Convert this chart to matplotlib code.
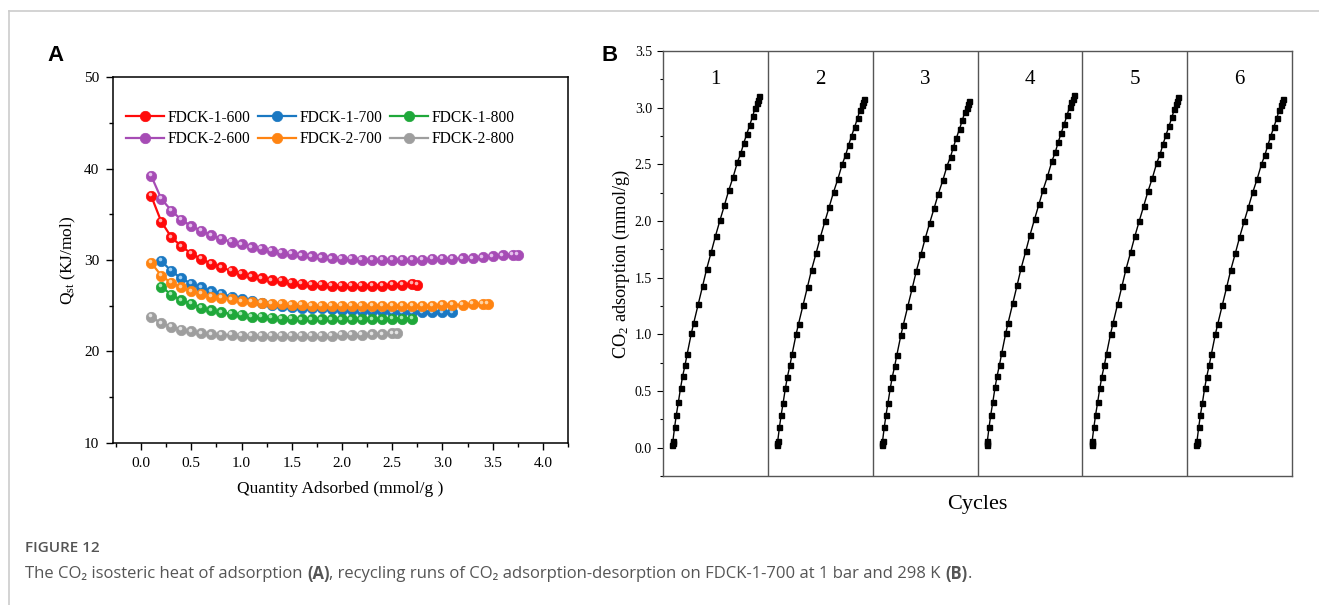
import numpy as np
import matplotlib
matplotlib.use("Agg")
import matplotlib.pyplot as plt
from matplotlib.ticker import MultipleLocator
from matplotlib import transforms

# ---- panel A: isosteric heat of adsorption ----
x_1_600 = [0.1, 0.2, 0.3, 0.4, 0.5, 0.6, 0.7, 0.8, 0.9, 1.0, 1.1, 1.2, 1.3, 1.4,
           1.5, 1.6, 1.7, 1.8, 1.9, 2.0, 2.1, 2.2, 2.3, 2.4, 2.5, 2.6, 2.7, 2.75]
q_1_600 = [37.0, 34.2, 32.5, 31.5, 30.7, 30.1, 29.6, 29.2, 28.8, 28.5, 28.2, 28.0, 27.8, 27.7,
           27.5, 27.4, 27.3, 27.3, 27.2, 27.2, 27.2, 27.2, 27.2, 27.2, 27.3, 27.3, 27.4, 27.3]

x_1_700 = [0.2, 0.3, 0.4, 0.5, 0.6, 0.7, 0.8, 0.9, 1.0, 1.1, 1.2, 1.3, 1.4, 1.5, 1.6,
           1.7, 1.8, 1.9, 2.0, 2.1, 2.2, 2.3, 2.4, 2.5, 2.6, 2.7, 2.8, 2.9, 3.0, 3.1]
q_1_700 = [29.9, 28.8, 28.0, 27.4, 27.0, 26.6, 26.3, 26.0, 25.7, 25.5, 25.3, 25.1, 25.0, 24.9, 24.8,
           24.7, 24.7, 24.6, 24.5, 24.5, 24.4, 24.4, 24.4, 24.3, 24.3, 24.3, 24.3, 24.3, 24.3, 24.3]

x_1_800 = [0.2, 0.3, 0.4, 0.5, 0.6, 0.7, 0.8, 0.9, 1.0, 1.1, 1.2, 1.3, 1.4,
           1.5, 1.6, 1.7, 1.8, 1.9, 2.0, 2.1, 2.2, 2.3, 2.4, 2.5, 2.6, 2.7]
q_1_800 = [27.1, 26.2, 25.6, 25.2, 24.8, 24.5, 24.3, 24.1, 24.0, 23.8, 23.8, 23.7, 23.6,
           23.6, 23.5, 23.5, 23.5, 23.5, 23.5, 23.5, 23.5, 23.5, 23.5, 23.6, 23.6, 23.6]

x_2_600 = [0.1, 0.2, 0.3, 0.4, 0.5, 0.6, 0.7, 0.8, 0.9, 1.0, 1.1, 1.2, 1.3, 1.4, 1.5, 1.6, 1.7, 1.8, 1.9,
           2.0, 2.1, 2.2, 2.3, 2.4, 2.5, 2.6, 2.7, 2.8, 2.9, 3.0, 3.1, 3.2, 3.3, 3.4, 3.5, 3.6, 3.7, 3.75]
q_2_600 = [39.2, 36.7, 35.4, 34.4, 33.7, 33.2, 32.7, 32.3, 32.0, 31.7, 31.4, 31.2, 31.0, 30.8, 30.7, 30.5, 30.4, 30.3, 30.2,
           30.1, 30.1, 30.0, 30.0, 30.0, 30.0, 30.0, 30.0, 30.0, 30.1, 30.1, 30.1, 30.2, 30.2, 30.3, 30.4, 30.5, 30.6, 30.6]

x_2_700 = [0.1, 0.2, 0.3, 0.4, 0.5, 0.6, 0.7, 0.8, 0.9, 1.0, 1.1, 1.2, 1.3, 1.4, 1.5, 1.6, 1.7, 1.8,
           1.9, 2.0, 2.1, 2.2, 2.3, 2.4, 2.5, 2.6, 2.7, 2.8, 2.9, 3.0, 3.1, 3.2, 3.3, 3.4, 3.45]
q_2_700 = [29.7, 28.3, 27.5, 27.0, 26.6, 26.3, 26.0, 25.9, 25.7, 25.5, 25.4, 25.3, 25.2, 25.2, 25.1, 25.1, 25.0, 25.0,
           25.0, 25.0, 25.0, 25.0, 25.0, 25.0, 25.0, 25.0, 25.0, 25.0, 25.0, 25.1, 25.1, 25.1, 25.2, 25.2, 25.2]

x_2_800 = [0.1, 0.2, 0.3, 0.4, 0.5, 0.6, 0.7, 0.8, 0.9, 1.0, 1.1, 1.2, 1.3,
           1.4, 1.5, 1.6, 1.7, 1.8, 1.9, 2.0, 2.1, 2.2, 2.3, 2.4, 2.5, 2.55]
q_2_800 = [23.8, 23.1, 22.7, 22.4, 22.2, 22.0, 21.9, 21.8, 21.8, 21.7, 21.7, 21.7, 21.7,
           21.7, 21.7, 21.7, 21.7, 21.7, 21.7, 21.8, 21.8, 21.8, 21.9, 21.9, 22.0, 22.0]

# ---- panel B: recycling runs (FDCK-1-700, 298 K) ----
pressure = [0.002, 0.005, 0.008, 0.028, 0.047, 0.070, 0.096, 0.119, 0.147, 0.172, 0.219,
            0.246, 0.299, 0.349, 0.395, 0.448, 0.496, 0.548, 0.598, 0.647, 0.698, 0.747,
            0.786, 0.820, 0.854, 0.889, 0.923, 0.949, 0.969, 0.984, 0.995]
uptake = [0.02, 0.04, 0.06, 0.185, 0.29, 0.40, 0.53, 0.63, 0.73, 0.83, 1.01,
          1.10, 1.27, 1.43, 1.58, 1.73, 1.87, 2.01, 2.14, 2.27, 2.39, 2.52,
          2.60, 2.69, 2.77, 2.85, 2.93, 3.00, 3.04, 3.07, 3.10]
cycle_labels = ["1", "2", "3", "4", "5", "6"]
cycle_peak = [3.10, 3.08, 3.06, 3.11, 3.09, 3.08]

serif = "Liberation Serif"
plt.rcParams["font.family"] = serif
plt.rcParams["mathtext.fontset"] = "custom"
plt.rcParams["mathtext.rm"] = serif
plt.rcParams["mathtext.it"] = serif + ":italic"

fig = plt.figure(figsize=(13.19, 6.05), dpi=100)

# page frame (left + top grey rule)
fig.add_artist(plt.Line2D([0.0068, 1.0], [0.9818, 0.9818], color="#cccccc", lw=1.2))
fig.add_artist(plt.Line2D([0.0068, 0.0068], [0.0, 0.9818], color="#cccccc", lw=1.2))

axA = fig.add_axes([0.0857, 0.2678, 0.3449, 0.6049])
series = [
    ("FDCK-1-600", x_1_600, q_1_600, "#ff0a0a", "#ffb0b0"),
    ("FDCK-1-700", x_1_700, q_1_700, "#1a78c2", "#9fd0f5"),
    ("FDCK-1-800", x_1_800, q_1_800, "#1fa83a", "#a8eab5"),
    ("FDCK-2-600", x_2_600, q_2_600, "#a64cb5", "#e6c2ee"),
    ("FDCK-2-700", x_2_700, q_2_700, "#ff8412", "#ffd3a3"),
    ("FDCK-2-800", x_2_800, q_2_800, "#9e9e9e", "#e4e4e4"),
]
hl = transforms.offset_copy(axA.transData, fig=fig, x=-1.6, y=1.6, units="dots")
handles = {}
for lab, xs, ys, c, light in series:
    h, = axA.plot(xs, ys, "-o", color=c, lw=1.6, ms=7.5, mec=c, mew=0.5, label=lab)
    axA.plot(xs, ys, "o", color=light, ms=2.6, mew=0, transform=hl)
    handles[lab] = h

axA.set_xlim(-0.28, 4.25)
axA.set_ylim(10, 50)
axA.xaxis.set_minor_locator(MultipleLocator(0.25))
axA.yaxis.set_major_locator(MultipleLocator(10))
axA.yaxis.set_minor_locator(MultipleLocator(5))
axA.set_xticks(np.arange(0, 4.01, 0.5))
axA.set_xticklabels([f"{v:.1f}" for v in np.arange(0, 4.01, 0.5)])
axA.tick_params(which="major", direction="out", length=5, width=1, labelsize=11, pad=5)
axA.tick_params(which="minor", direction="out", length=3, width=1)
for s in axA.spines.values():
    s.set_linewidth(1.1)
axA.set_xlabel("Quantity Adsorbed (mmol/g )", fontsize=12.5, labelpad=8)
axA.set_ylabel("Q$_{\\mathrm{st}}$ (KJ/mol)", fontsize=12.5, labelpad=4)

# legend filled column-wise, so interleave to get rows 1-x / 2-x
order = ["FDCK-1-600", "FDCK-2-600", "FDCK-1-700", "FDCK-2-700", "FDCK-1-800", "FDCK-2-800"]
axA.legend([handles[k] for k in order], order, ncol=3, loc="center",
           bbox_to_anchor=(0.456, 0.86), frameon=False,
           fontsize=11.2, handlelength=2.4, handletextpad=0.25, columnspacing=0.5,
           labelspacing=0.35, borderaxespad=0)

axB = fig.add_axes([0.5027, 0.2132, 0.4768, 0.7025])
width = 1.2
start = 0.105
for k in range(6):
    scale = cycle_peak[k] / uptake[-1]
    xs = [k * width + start + p for p in pressure]
    ys = [u * scale for u in uptake]
    axB.plot(xs, ys, "-s", color="black", lw=1.0, ms=3.6)
    axB.text(k * width + width / 2, 3.25, cycle_labels[k], ha="center", va="center", fontsize=15)
    if k > 0:
        axB.axvline(k * width, color="#555555", lw=1.0)
axB.set_xlim(0, 6 * width)
axB.set_ylim(-0.25, 3.5)
axB.set_xticks([])
axB.yaxis.set_minor_locator(MultipleLocator(0.25))
axB.set_yticks(np.arange(0, 3.51, 0.5))
axB.set_yticklabels([f"{v:.1f}" for v in np.arange(0, 3.51, 0.5)])
axB.tick_params(which="major", direction="out", length=4, width=0.8, labelsize=10, pad=4)
axB.tick_params(which="minor", direction="out", length=2, width=0.8)
for s in axB.spines.values():
    s.set_color("#555555")
    s.set_linewidth(1.0)
axB.set_xlabel("Cycles", fontsize=16, labelpad=14)
axB.set_ylabel("CO$_2$ adsorption (mmol/g)", fontsize=13.2, labelpad=2)

fig.text(0.036, 0.909, "A", fontsize=16, fontweight="bold", family="Liberation Sans", va="center")
fig.text(0.456, 0.909, "B", fontsize=16, fontweight="bold", family="Liberation Sans", va="center")

# caption
cap_font = ["Open Sans", "DejaVu Sans"]
fig.text(0.019, 0.094, "FIGURE 12", fontsize=11, family=cap_font,
         color="#555555", fontweight="semibold", va="center")
pieces = [("The CO\u2082 isosteric heat of adsorption ", "normal"), ("(A)", "bold"),
          (", recycling runs of CO\u2082 adsorption-desorption on FDCK-1-700 at 1 bar and 298 K ", "normal"),
          ("(B)", "bold"), (".", "normal")]
renderer = fig.canvas.get_renderer()
xpos = 0.019
for txt, w in pieces:
    t = fig.text(xpos, 0.051, txt, fontsize=12, family=cap_font, color="#555555",
                 fontweight=w, va="center")
    bb = t.get_window_extent(renderer=renderer)
    xpos = xpos + bb.width / fig.bbox.width

fig.savefig("out.png", dpi=100)
plt.close(fig)
